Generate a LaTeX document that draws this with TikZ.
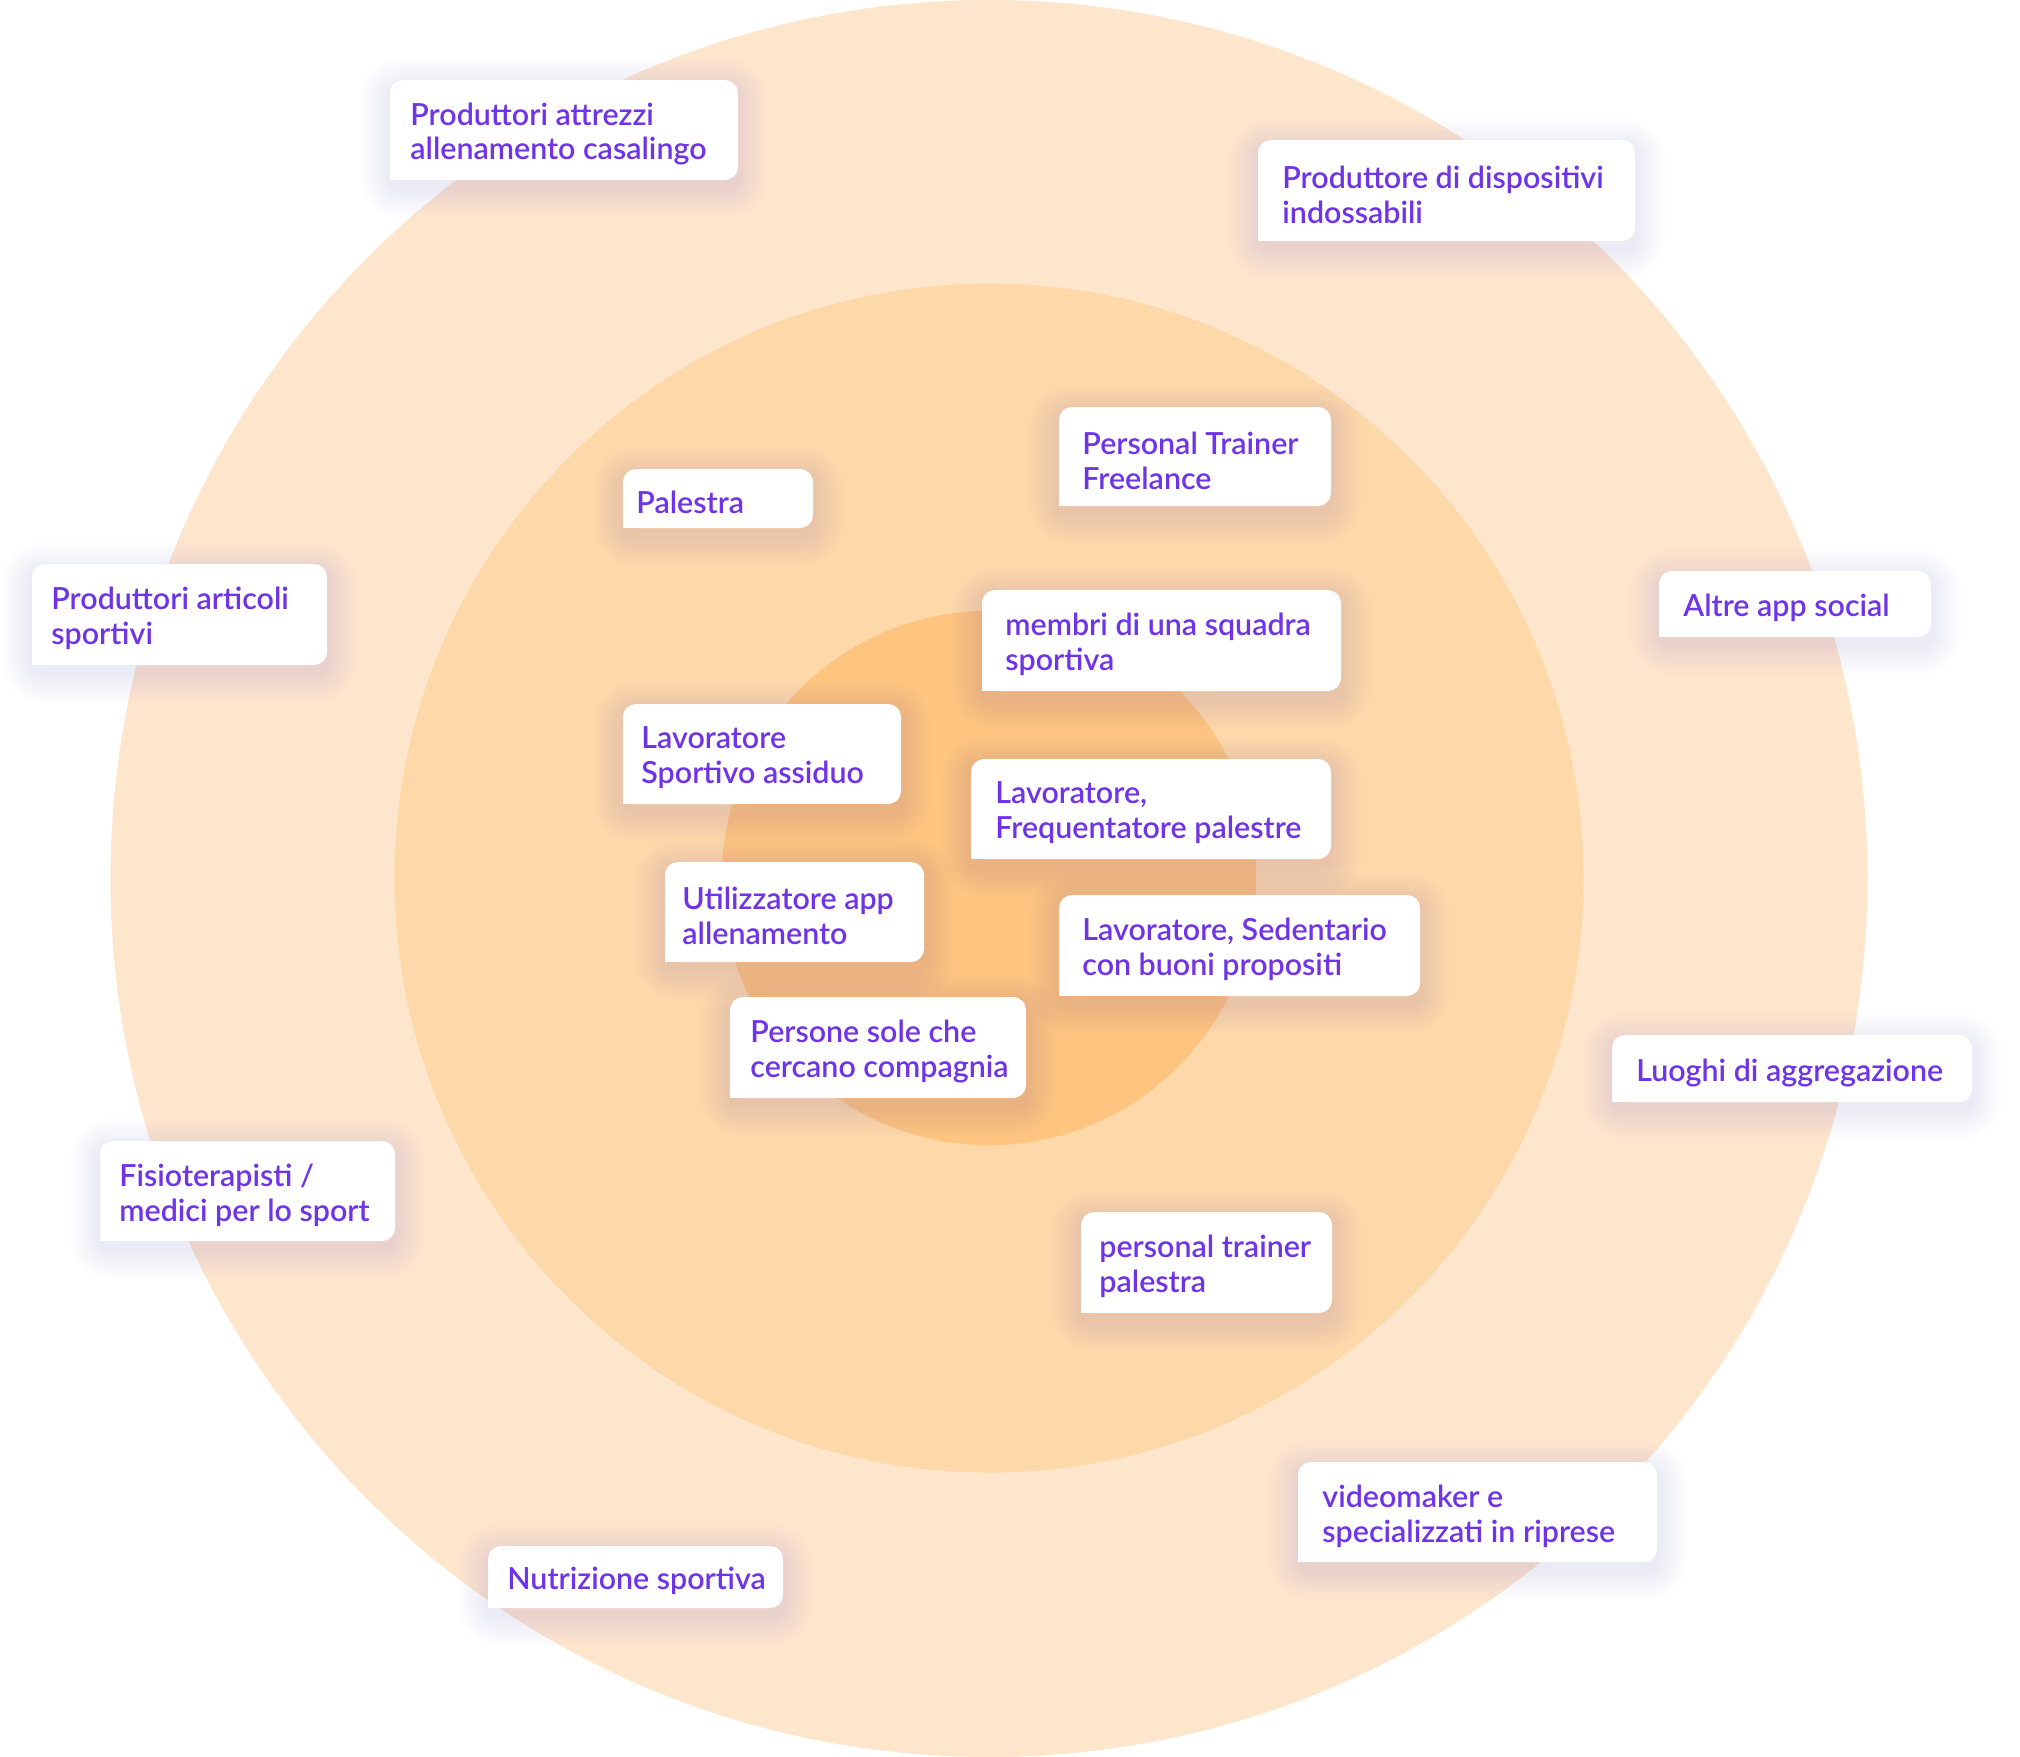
\documentclass[tikz,border=0pt]{standalone}
\usepackage{fontspec}
\setmainfont{Lato}[UprightFont=* Semibold]
\definecolor{ringA}{RGB}{254,230,204}
\definecolor{ringB}{RGB}{253,216,168}
\definecolor{ringC}{RGB}{253,197,128}
\definecolor{txtc}{RGB}{111,51,232}
\definecolor{shadc}{RGB}{130,95,210}
\tikzset{
  cardbox/.style={fill=white, draw=none, rounded corners=6.5pt, inner sep=0pt, outer sep=0pt},
  cardtext/.style={text=txtc, align=left, inner sep=0pt, font=\fontsize{15.2}{17.4}\selectfont},
}
% #1 name, #2 x1, #3 y1, #4 x2, #5 y2, #6 text x, #7 text
\newcommand{\mycard}[7]{%
  \foreach \k in {1,...,10}{%
    \fill[shadc, opacity=0.012, rounded corners={6pt+\k*1.5pt}]
      ({#2-3*\k},{#3-3*\k+8}) rectangle ({#4+3*\k},{#5+3*\k+8});
  }
  \node[cardbox, anchor=north west, minimum width={(#4-#2)*0.5pt}, minimum height={(#5-#3)*0.5pt}] (#1box) at (#2,#3) {};
  \fill[white] (#1box.south west) rectangle ++(7pt,7pt);
  \node[cardtext, anchor=west] (#1) at (#6,{(#3+#5)/2+4}) {#7};
}
\begin{document}
\begin{tikzpicture}[x=0.5pt,y=-0.5pt]
\useasboundingbox[fill=white] (0,0) rectangle (2020,1757);
\fill[ringA] (989,878.5) circle[radius=439.25pt];
\fill[ringB] (989,878) circle[radius=297.25pt];
\fill[ringC] (989,878) circle[radius=133.6pt];

\mycard{attrezzi}{390}{80}{738}{180}{410}{Produttori attrezzi\\allenamento casalingo}
\mycard{indossabili}{1258}{140}{1635}{241}{1282}{Produttore di dispositivi\\indossabili}
\mycard{palestra}{623}{469}{813}{528}{636}{Palestra}
\mycard{ptfree}{1059}{407}{1331}{506}{1082}{Personal Trainer\\Freelance}
\mycard{articoli}{32}{564}{327}{665}{51}{Produttori articoli\\sportivi}
\mycard{social}{1659}{571}{1931}{637}{1683}{Altre app social}
\mycard{squadra}{982}{590}{1341}{691}{1005}{membri di una squadra\\sportiva}
\mycard{assiduo}{623}{704}{901}{804}{641}{Lavoratore\\Sportivo assiduo}
\mycard{frequentatore}{971}{759}{1331}{859}{995}{Lavoratore,\\Frequentatore palestre}
\mycard{utilizzatore}{665}{862}{924}{962}{682}{Utilizzatore app\\allenamento}
\mycard{sedentario}{1059}{895}{1420}{996}{1082}{Lavoratore, Sedentario\\con buoni propositi}
\mycard{sole}{730}{997}{1026}{1098}{750}{Persone sole che\\cercano compagnia}
\mycard{luoghi}{1612}{1035}{1972}{1102}{1636}{Luoghi di aggregazione}
\mycard{fisio}{100}{1141}{395}{1241}{119}{Fisioterapisti /\\medici per lo sport}
\mycard{ptpal}{1081}{1212}{1332}{1313}{1099}{personal trainer\\palestra}
\mycard{video}{1298}{1462}{1657}{1562}{1322}{videomaker e\\specializzati in riprese}
\mycard{nutrizione}{488}{1546}{783}{1608}{507}{Nutrizione sportiva}
\end{tikzpicture}
\end{document}
